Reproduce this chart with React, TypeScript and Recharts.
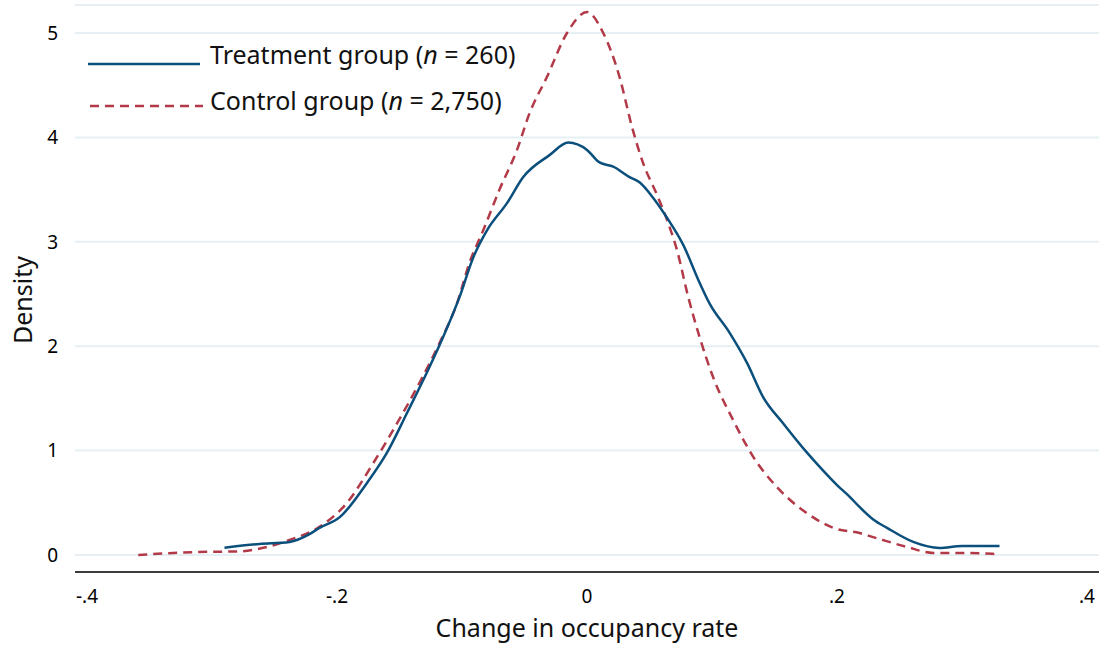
import { LineChart, Line, XAxis, YAxis, CartesianGrid, Legend } from "recharts";

// treatment group density (n = 260)
const treatX = [-0.29, -0.262, -0.238, -0.222, -0.214, -0.198, -0.176, -0.16, -0.144, -0.126, -0.115, -0.102, -0.091, -0.08, -0.064, -0.051, -0.03, -0.015, 0, 0.01, 0.021, 0.034, 0.042, 0.053, 0.064, 0.077, 0.09, 0.098, 0.114, 0.128, 0.141, 0.157, 0.176, 0.188, 0.2, 0.21, 0.218, 0.229, 0.24, 0.261, 0.282, 0.3, 0.33];
const treatY = [0.07, 0.105, 0.125, 0.2, 0.26, 0.36, 0.69, 0.98, 1.36, 1.8, 2.09, 2.47, 2.85, 3.11, 3.37, 3.62, 3.83, 3.95, 3.88, 3.76, 3.72, 3.62, 3.57, 3.42, 3.23, 2.97, 2.61, 2.41, 2.13, 1.84, 1.51, 1.26, 0.98, 0.82, 0.67, 0.56, 0.46, 0.34, 0.26, 0.125, 0.067, 0.086, 0.086];

// control group density (n = 2,750)
const ctrlX = [-0.359, -0.331, -0.304, -0.278, -0.256, -0.238, -0.214, -0.192, -0.171, -0.152, -0.134, -0.118, -0.104, -0.094, -0.083, -0.07, -0.056, -0.046, -0.032, -0.016, 0, 0.013, 0.026, 0.036, 0.045, 0.056, 0.064, 0.072, 0.081, 0.09, 0.101, 0.117, 0.133, 0.152, 0.176, 0.197, 0.218, 0.232, 0.256, 0.277, 0.3, 0.326];
const ctrlY = [0.0, 0.02, 0.03, 0.035, 0.077, 0.144, 0.27, 0.5, 0.88, 1.26, 1.65, 2.03, 2.41, 2.8, 3.11, 3.5, 3.88, 4.23, 4.58, 5.0, 5.2, 5.0, 4.58, 4.1, 3.75, 3.45, 3.21, 2.92, 2.47, 2.09, 1.7, 1.29, 0.94, 0.65, 0.4, 0.26, 0.21, 0.16, 0.077, 0.02, 0.02, 0.01];

const xTicks = [-0.4, -0.2, 0, 0.2, 0.4];
const yTicks = [0, 1, 2, 3, 4, 5];

const treatLabel = "Treatment group";
const treatN = "260";
const ctrlLabel = "Control group";
const ctrlN = "2,750";

const BLUE = "#0b4f7c";
const RED = "#b23a48";
const FONT = "'Noto Sans', Lato, sans-serif";

const treatData = treatX.map((x, i) => ({ x, y: treatY[i] }));
const ctrlData = ctrlX.map((x, i) => ({ x, y: ctrlY[i] }));

const fmtX = (v: number) => {
  if (v === 0) return "0";
  const s = Math.abs(v).toFixed(1).replace(/^0/, "");
  return v < 0 ? "-" + s : s;
};

const LegendBox = () => (
  <svg width={580} height={130} style={{ position: "absolute", left: 0, top: 0 }}>
    <line x1={88} x2={200} y1={64} y2={64} stroke={BLUE} strokeWidth={2.5} />
    <text x={210} y={64} fontSize={25} fontFamily={FONT} fill="#111">
      {treatLabel} (<tspan fontStyle="italic">n</tspan> = {treatN})
    </text>
    <line x1={90} x2={203} y1={106} y2={106} stroke={RED} strokeWidth={2.5} strokeDasharray="9 6" />
    <text x={210} y={110} fontSize={25} fontFamily={FONT} fill="#111">
      {ctrlLabel} (<tspan fontStyle="italic">n</tspan> = {ctrlN})
    </text>
  </svg>
);

export default function App() {
  return (
    <div style={{ position: "absolute", left: 0, top: 0, background: "#fff" }}>
      <LineChart width={1099} height={645} margin={{ top: 5, right: 0, bottom: 0, left: 0 }}>
        <CartesianGrid vertical={false} stroke="#e6eff3" strokeWidth={2} />
        <XAxis
          type="number"
          dataKey="x"
          domain={[-0.4096, 0.4096]}
          ticks={xTicks}
          tickFormatter={fmtX}
          allowDataOverflow
          height={73}
          tickLine={false}
          tickSize={0}
          tickMargin={18}
          axisLine={{ stroke: "#000", strokeWidth: 1.5 }}
          tick={{ fill: "#000", fontSize: 19, fontFamily: FONT }}
          label={{
            content: () => (
              <text x={587} y={637} textAnchor="middle" fontSize={25} fontFamily={FONT} fill="#111">
                Change in occupancy rate
              </text>
            ),
          }}
        />
        <YAxis
          type="number"
          dataKey="y"
          domain={[-0.163, 5.268]}
          ticks={yTicks}
          allowDataOverflow
          width={75}
          axisLine={false}
          tickLine={false}
          tickSize={0}
          tickMargin={17}
          tick={{ fill: "#000", fontSize: 19, fontFamily: FONT }}
          label={{
            content: () => (
              <text
                x={22}
                y={300}
                transform="rotate(-90 22 300)"
                textAnchor="middle"
                dominantBaseline="central"
                fontSize={25}
                fontFamily={FONT}
                fill="#111"
              >
                Density
              </text>
            ),
          }}
        />
        <Legend content={() => <LegendBox />} wrapperStyle={{ left: 0, top: 0 }} layout="vertical" align="center" verticalAlign="middle" />
        <Line
          data={ctrlData}
          dataKey="y"
          type="monotone"
          stroke={RED}
          strokeWidth={2.5}
          strokeDasharray="9 6"
          dot={false}
          isAnimationActive={false}
          name="Control"
        />
        <Line
          data={treatData}
          dataKey="y"
          type="monotone"
          stroke={BLUE}
          strokeWidth={2.5}
          dot={false}
          isAnimationActive={false}
          name="Treatment"
        />
      </LineChart>
    </div>
  );
}
